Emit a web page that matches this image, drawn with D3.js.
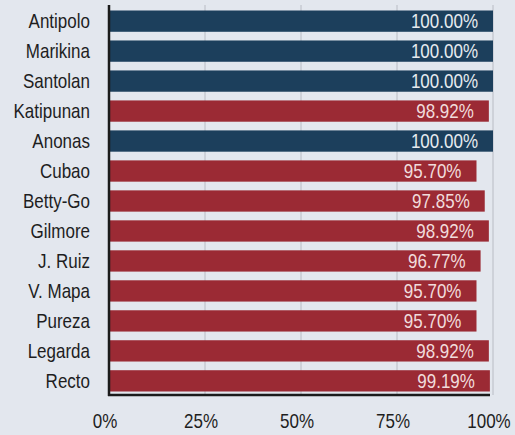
<!DOCTYPE html>
<html>
<head>
<meta charset="utf-8">
<script src="https://cdn.jsdelivr.net/npm/d3@7"></script>
<style>
	body { margin: 0; background: #e3e7ee; }
	svg { display: block; font-family: "Liberation Sans", Arial, sans-serif; }
</style>
</head>
<body>
<svg width="515" height="435"></svg>
<script>
// stations top to bottom
const stations = ["Antipolo", "Marikina", "Santolan", "Katipunan", "Anonas", "Cubao", "Betty-Go",
	"Gilmore", "J. Ruiz", "V. Mapa", "Pureza", "Legarda", "Recto"];
const values = [100.00, 100.00, 100.00, 98.92, 100.00, 95.70, 97.85, 98.92, 96.77, 95.70, 95.70, 98.92, 99.19];
// which bars are blue (the rest red)
const groups = ["b", "b", "b", "r", "b", "r", "r", "r", "r", "r", "r", "r", "r"];
const ticks = [0, 25, 50, 75, 100];

const svg = d3.select("svg");
const colors = { b: "#1c3f5c", r: "#9b2a34" };
const stretch = 1.2; // text in the picture looks a bit tall

const x = d3.scaleLinear().domain([0, 100]).range([109, 493]);
const y = d3.scaleBand().domain(stations).range([6, 396]).paddingInner(0.29).paddingOuter(0.15);

function place(px, py) {
	return `translate(${px},${py}) scale(1,${stretch})`;
}

// gridlines
svg.append("g")
	.selectAll("line")
	.data(ticks.slice(1))
	.enter().append("line")
	.attr("x1", d => x(d)).attr("x2", d => x(d))
	.attr("y1", 5).attr("y2", 395)
	.attr("stroke", "#b9bcc4")
	.attr("stroke-width", 1);

// bars
svg.append("g")
	.selectAll("rect")
	.data(stations)
	.enter().append("rect")
	.attr("x", x(0))
	.attr("y", d => y(d))
	.attr("width", (d, i) => x(values[i]) - x(0))
	.attr("height", y.bandwidth())
	.attr("fill", (d, i) => colors[groups[i]]);

// value labels
svg.append("g")
	.selectAll("text")
	.data(stations)
	.enter().append("text")
	.attr("transform", (d, i) => place(x(values[i]) - 15, y(d) + y.bandwidth() / 2 + 7))
	.attr("text-anchor", "end")
	.attr("font-size", 17)
	.attr("fill", (d, i) => groups[i] == "b" ? "#e6ebef" : "#f1dcdc")
	.text((d, i) => values[i].toFixed(2) + "%");

// category labels
svg.append("g")
	.selectAll("text")
	.data(stations)
	.enter().append("text")
	.attr("transform", d => place(90, y(d) + y.bandwidth() / 2 + 7))
	.attr("text-anchor", "end")
	.attr("font-size", 17)
	.attr("fill", "#1e1e1e")
	.text(d => d);

// axis lines
svg.append("line")
	.attr("x1", 109).attr("x2", 109).attr("y1", 5).attr("y2", 396)
	.attr("stroke", "#1b1b1b").attr("stroke-width", 2.5);
svg.append("line")
	.attr("x1", 108).attr("x2", 490).attr("y1", 395).attr("y2", 395)
	.attr("stroke", "#1b1b1b").attr("stroke-width", 2.5);

// x tick labels
svg.append("g")
	.selectAll("text")
	.data(ticks)
	.enter().append("text")
	.attr("transform", d => place(x(d) - 4, 428))
	.attr("text-anchor", "middle")
	.attr("font-size", 17)
	.attr("fill", "#1e1e1e")
	.text(d => d + "%");
</script>
</body>
</html>
